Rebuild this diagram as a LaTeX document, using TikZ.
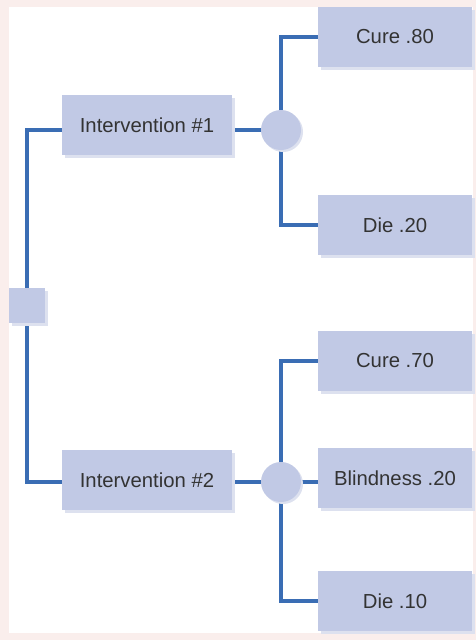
\documentclass[tikz,border=0pt]{standalone}
\usepackage{fontspec}
\setmainfont{Liberation Sans}
\usetikzlibrary{shadows,backgrounds}
\definecolor{boxfill}{HTML}{C1C9E5}
\definecolor{boxshade}{HTML}{DDE1EF}
\definecolor{linkblue}{HTML}{3A6DB4}
\definecolor{framepink}{HTML}{FAEEEC}
\definecolor{textgray}{HTML}{333333}
\tikzset{
  stepbox/.style={fill=boxfill, draw=none, text=textgray, font=\fontsize{20.3}{23}\selectfont,
    minimum height=60pt, inner sep=0pt,
    drop shadow={shadow xshift=3pt, shadow yshift=-3pt, fill=boxshade, opacity=1}},
  choicebox/.style={stepbox, minimum width=170pt},
  outcomebox/.style={stepbox, minimum width=154pt},
  chance/.style={circle, fill=boxfill, draw=none, minimum size=40pt, inner sep=0pt,
    drop shadow={shadow xshift=2pt, shadow yshift=-2pt, fill=boxshade, opacity=1}},
  decision/.style={fill=boxfill, draw=none, minimum width=36pt, minimum height=35pt, inner sep=0pt,
    drop shadow={shadow xshift=3pt, shadow yshift=-3pt, fill=boxshade, opacity=1}},
  link/.style={draw=linkblue, line width=4pt}
}
\begin{document}
\begin{tikzpicture}[x=1pt, y=-1pt]
  \useasboundingbox (0,0) rectangle (476,640);
  \begin{pgfonlayer}{background}
    \fill[framepink] (0,0) rectangle (476,640);
    \fill[white] (9,7) rectangle (473,633);
  \end{pgfonlayer}

  % decision node and the two options
  \node[decision] (root) at (27,305) {};
  \node[choicebox] (opt1) at (147,125) {Intervention \#1};
  \node[choicebox] (opt2) at (147,480) {Intervention \#2};

  % chance nodes
  \node[chance] (ch1) at (281,130) {};
  \node[chance] (ch2) at (281,482) {};

  % outcomes
  \node[outcomebox] (cure80) at (395,37) {Cure .80};
  \node[outcomebox] (die20) at (395,225) {Die .20};
  \node[outcomebox] (cure70) at (395,361) {Cure .70};
  \node[outcomebox] (blind20) at (395,478) {Blindness .20};
  \node[outcomebox] (die10) at (395,601) {Die .10};

  \begin{pgfonlayer}{background}
    \draw[link] (root.center) |- (opt1.west |- ch1);
    \draw[link] (root.center) |- (opt2.west |- ch2);
    \draw[link] (opt1.east |- ch1) -- (ch1);
    \draw[link] (opt2.east |- ch2) -- (ch2);
    \draw[link] (ch1.center) |- (cure80.west);
    \draw[link] (ch1.center) |- (die20.west);
    \draw[link] (ch2.center) |- (cure70.west);
    \draw[link] (ch2.center) -- (ch2 -| blind20.west);
    \draw[link] (ch2.center) |- (die10.west);
  \end{pgfonlayer}
\end{tikzpicture}
\end{document}
